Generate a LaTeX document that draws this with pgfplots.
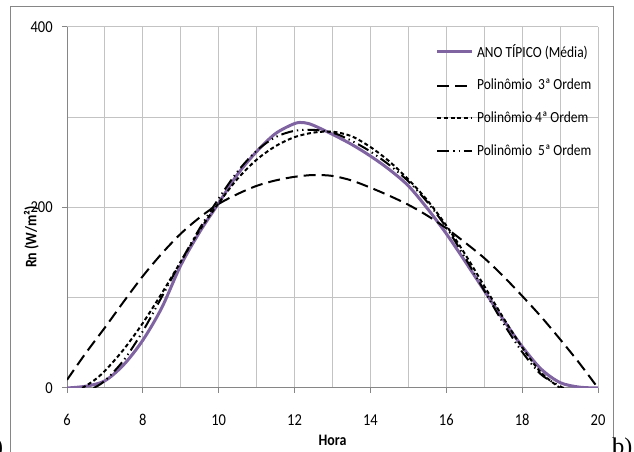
\documentclass[border=0pt]{standalone}
\usepackage{pgfplots}
\pgfplotsset{compat=1.18}
\usepackage{fontspec}
\setmainfont{Carlito}[FakeStretch=0.87]
\newfontfamily\serifb{Liberation Serif}

\definecolor{excelpurple}{RGB}{128,100,162}
\definecolor{gridgray}{RGB}{195,195,195}
\definecolor{axgray}{RGB}{134,134,134}

\begin{document}
\begin{tikzpicture}
% page = 634 x 452 px, 1 px = 0.75pt
\path[use as bounding box] (0,0) rectangle (475.5pt,339pt);
\draw[axgray, line width=0.75pt] (7.5pt,-10pt) -- (7.5pt,333.75pt) -- (459.75pt,333.75pt) -- (459.75pt,-10pt);

\begin{axis}[
    at={(50.25pt,48pt)}, anchor=south west,
    width=398.25pt, height=270.75pt, scale only axis,
    xmin=6, xmax=20, ymin=0, ymax=400,
    xtick={6,8,...,20}, minor xtick={7,9,...,19},
    ytick={0,200,400}, minor ytick={100,300},
    grid=both,
    grid style={gridgray, line width=0.75pt},
    minor grid style={gridgray, line width=0.75pt},
    axis x line*=bottom, axis y line*=left,
    axis line style={axgray, line width=0.75pt},
    tick align=outside,
    major tick length=3.75pt, minor tick length=0pt,
    tick style={axgray, line width=0.75pt},
    /pgf/number format/assume math mode=true,
    tick label style={font=\fontsize{12.5}{14}\selectfont},
    xticklabel style={yshift=-12.5pt},
    yticklabel style={xshift=-3.5pt},
    xlabel={\bfseries Hora},
    ylabel={\bfseries Rn (W/m²)},
    label style={font=\fontsize{12}{14}\selectfont},
    xlabel style={at={(axis description cs:0.5,-0.144)}, anchor=center},
    ylabel style={at={(axis description cs:-0.067,0.418)}, anchor=center},
    legend cell align=left,
    legend style={at={(axis description cs:0.694,0.962)}, anchor=north west,
        draw=none, fill=none, inner sep=0pt, row sep=10pt,
        nodes={inner sep=2.5pt},
        font=\fontsize{11.6}{13}\selectfont},
    legend image code/.code={\draw[#1] (0pt,0pt) -- (26.25pt,0pt);},
]
\addplot[excelpurple, line width=2.25pt, smooth] coordinates {
    (6,0) (6.5,2) (7,8) (7.5,26) (8,53) (8.5,89) (9,136) (9.5,173)
    (10,205) (10.5,237) (11,262) (11.5,282) (12,293) (12.25,294) (12.5,291)
    (13,281) (13.5,270) (14,257) (14.5,242) (15,224) (15.5,199) (16,171)
    (16.5,140) (17,108) (17.5,76) (18,46) (18.5,21) (19,6) (19.5,1) (20,0)
};
\addlegendentry{ANO TÍPICO (Média)}

\addplot[black, line width=1.5pt, dash pattern=on 9pt off 4.5pt, smooth] coordinates {
    (6,9) (6.5,39) (7,67) (7.5,96) (8,124) (8.5,149) (9,171) (9.5,189)
    (10,204) (10.5,215) (11,224) (11.5,230) (12,234) (12.5,236) (13,235)
    (13.5,230) (14,222) (14.5,213) (15,203) (15.5,191) (16,177) (16.5,161)
    (17,144) (17.5,124) (18,102) (18.5,79) (19,54) (19.5,28) (20,0)
};
\addlegendentry{Polinômio\ \ 3ª Ordem}

\addplot[black, line width=1.5pt, dash pattern=on 3pt off 2pt, smooth] coordinates {
    (6.4,0) (6.7,8) (7,19) (7.5,43) (8,72) (8.5,105) (9,140) (9.5,175)
    (10,205) (10.5,232) (11,253) (11.5,268) (12,278) (12.5,283) (13,284)
    (13.5,279) (14,267) (14.5,251) (15,231) (15.5,208) (16,180) (16.5,148)
    (17,113) (17.5,78) (18,45) (18.5,17) (19,0)
};
\addlegendentry{Polinômio 4ª Ordem}

\addplot[black, line width=1.5pt, dash pattern=on 9pt off 3pt on 1pt off 3pt on 1pt off 3pt, smooth] coordinates {
    (6.7,0) (7,8) (7.5,31) (8,63) (8.5,101) (9,140) (9.5,177)
    (10,210) (10.5,240) (11,263) (11.5,278) (12,285) (12.5,286) (13,283)
    (13.5,274) (14,262) (14.5,247) (15,229) (15.5,206) (16,178) (16.5,144)
    (17,108) (17.5,72) (18,40) (18.5,15) (19,2) (19.1,0)
};
\addlegendentry{Polinômio\ \ 5ª Ordem}
\end{axis}

\node[anchor=base west, inner sep=0pt, font=\serifb\fontsize{18}{18}\selectfont] at (459pt,-1.8pt) {b)};
\node[anchor=base east, inner sep=0pt, font=\serifb\fontsize{18}{18}\selectfont] at (2.5pt,-1.8pt) {a)};
\end{tikzpicture}
\end{document}
